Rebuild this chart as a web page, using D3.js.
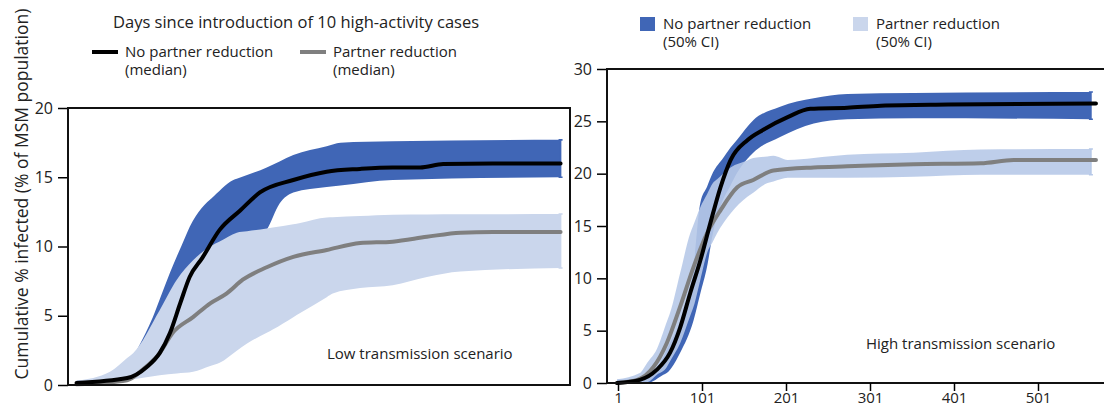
<!DOCTYPE html>
<html>
<head>
<meta charset="utf-8">
<script src="https://cdn.jsdelivr.net/npm/d3@7"></script>
<style>
  body { margin: 0; background: #fff; }
  svg { display: block; font-family: "Open Sans", sans-serif; }
</style>
</head>
<body>
<div class="my-graph"></div>
<script>
// ---- data ----
// low transmission scenario
const lowDaysMed = [3, 62, 85, 100, 112, 124, 135, 150, 170, 194, 217, 256, 295, 334, 372, 404, 431, 489, 568]
const lowNoRedMed = [0.15, 0.5, 1.3, 2.3, 3.75, 5.9, 7.8, 9.2, 11.2, 12.6, 13.9, 14.8, 15.4, 15.6, 15.7, 15.7, 15.95, 16.0, 16.0]

const lowDaysRed = [3, 62, 80, 100, 115, 139, 159, 178, 197, 225, 256, 295, 334, 372, 412, 451, 489, 568]
const lowRedMed = [0.05, 0.35, 1.1, 2.3, 3.75, 4.9, 5.9, 6.6, 7.6, 8.5, 9.25, 9.75, 10.25, 10.35, 10.7, 11.0, 11.05, 11.05]

const lowNoRedHiDays = [3, 42, 62, 75, 92, 112, 132, 159, 186, 225, 256, 311, 372, 568]
const lowNoRedHi = [0.3, 0.6, 1.1, 2.7, 4.9, 8.1, 11.0, 13.4, 14.8, 15.7, 16.6, 17.5, 17.6, 17.7]
const lowNoRedLoDays = [3, 62, 100, 130, 160, 190, 225, 240, 256, 295, 372, 568]
const lowNoRedLo = [0.05, 0.3, 1.5, 4, 7, 9.5, 11.2, 13.1, 13.9, 14.3, 14.8, 15.0]

const lowRedHiDays = [3, 42, 69, 100, 120, 139, 159, 190, 225, 256, 295, 372, 568]
const lowRedHi = [0.3, 0.95, 2.3, 5.4, 7.6, 9.0, 10.0, 11.0, 11.3, 11.6, 12.1, 12.3, 12.35]
const lowRedLoDays = [3, 62, 100, 139, 170, 202, 232, 264, 302, 334, 372, 412, 451, 568]
const lowRedLo = [0, 0.35, 0.7, 0.95, 1.6, 3.0, 4.0, 5.2, 6.6, 7.0, 7.2, 7.8, 8.2, 8.45]

// high transmission scenario
const highDaysMed = [0, 27, 47, 63, 75, 87, 99, 111, 123, 135, 155, 174, 203, 230, 274, 314, 394, 570]
const highNoRedMed = [0, 0.3, 1.25, 2.9, 5.3, 8.6, 11.7, 15.3, 18.7, 21.3, 23.2, 24.2, 25.4, 26.2, 26.3, 26.5, 26.6, 26.7]

const highDaysRed = [0, 24, 43, 59, 75, 91, 107, 123, 143, 162, 186, 234, 274, 353, 433, 472, 570]
const highRedMed = [0, 0.3, 1.5, 3.8, 7.3, 11.1, 14.3, 16.5, 18.7, 19.4, 20.3, 20.6, 20.7, 20.9, 21.0, 21.3, 21.3]

const highNoRedHiDays = [0, 36, 55, 75, 91, 99, 114, 135, 162, 194, 234, 274, 353, 564]
const highNoRedHi = [0.3, 0.7, 2.5, 6.0, 11.1, 17.2, 20.1, 22.5, 25.1, 26.4, 27.2, 27.6, 27.7, 27.8]
const highNoRedLoDays = [0, 36, 59, 75, 91, 107, 114, 126, 143, 162, 194, 234, 274, 353, 564]
const highNoRedLo = [0, 0, 0.95, 2.9, 6.0, 11.1, 14.3, 17.5, 20.1, 22.0, 23.5, 24.8, 25.2, 25.3, 25.2]

const highRedHiDays = [0, 27, 47, 63, 75, 87, 99, 114, 135, 162, 186, 203, 234, 274, 353, 433, 564]
const highRedHi = [0.35, 0.95, 3.2, 6.7, 10.5, 14.3, 16.8, 19.1, 20.6, 21.5, 21.7, 21.3, 21.5, 21.8, 22.0, 22.3, 22.35]
const highRedLoDays = [0, 36, 59, 75, 91, 107, 119, 135, 155, 179, 203, 274, 353, 433, 564]
const highRedLo = [0, 0.1, 1.5, 3.8, 7.3, 12.4, 14.3, 16.2, 17.8, 19.1, 19.6, 19.6, 19.7, 19.9, 19.9]

const yTicksLow = [0, 5, 10, 15, 20]
const yTicksHigh = [0, 5, 10, 15, 20, 25, 30]
const xTicksHigh = [1, 101, 201, 301, 401, 501]

const zip = (xs, ys) => xs.map((d, i) => ({ day: d, v: ys[i] }))

const drawGraph = () => {
  const width = 1104
  const height = 409
  const darkBlue = '#4066b6'
  const lightBlueL = '#cad6ec'
  const lightBlueR = '#b7c9e8'

  const svg = d3.select('.my-graph')
    .append('svg')
    .attr('width', width)
    .attr('height', height)

  // band: merge hi/lo arrays on a common day grid
  const band = (hiD, hi, loD, lo) => {
    const days = Array.from(new Set([...hiD, ...loD])).sort((a, b) => a - b)
    const hiF = d3.scaleLinear().domain(hiD).range(hi).clamp(true)
    const loF = d3.scaleLinear().domain(loD).range(lo).clamp(true)
    return days.map(d => ({ day: d, hi: hiF(d), lo: loF(d) }))
  }

  const panel = (cfg) => {
    const g = svg.append('g')
    const x = cfg.x, y = cfg.y

    const area = d3.area()
      .x(d => x(d.day))
      .y0(d => y(d.lo))
      .y1(d => y(d.hi))
      .curve(d3.curveMonotoneX)
    const line = d3.line()
      .x(d => x(d.day))
      .y(d => y(d.v))
      .curve(d3.curveMonotoneX)

    cfg.bands.forEach(b => {
      g.append('path').datum(b.data)
        .attr('fill', b.color)
        .attr('opacity', b.opacity || 1)
        .attr('d', area)
      // end caps
      const last = b.data[b.data.length - 1]
      const cx = x(last.day)
      g.append('path')
        .attr('d', `M${cx - 2},${y(last.hi)}H${cx + 2}M${cx},${y(last.hi)}V${y(last.lo)}M${cx - 2},${y(last.lo)}H${cx + 2}`)
        .attr('stroke', b.color).attr('stroke-width', 1.6).attr('fill', 'none')
    })

    cfg.lines.forEach(l => {
      g.append('path').datum(l.data)
        .attr('fill', 'none')
        .attr('stroke', l.color)
        .attr('stroke-width', 4)
        .attr('stroke-linecap', 'round')
        .attr('stroke-linejoin', 'round')
        .attr('d', line)
    })

    // y axis
    const ya = g.append('g')
      .attr('transform', `translate(${cfg.x0},0)`)
      .call(d3.axisLeft(y).tickValues(cfg.yTicks).tickSize(10).tickPadding(5))
    ya.select('.domain').remove()
    ya.selectAll('line').attr('stroke', '#000').attr('stroke-width', 1.5)
    ya.selectAll('text').attr('font-size', 16).attr('fill', '#222').attr('font-family', 'Open Sans, sans-serif')

    // frame
    g.append('path')
      .attr('d', cfg.frame)
      .attr('fill', 'none')
      .attr('stroke', '#111')
      .attr('stroke-width', 2)

    g.append('text')
      .attr('x', cfg.labelX).attr('y', cfg.labelY)
      .attr('font-size', 15).attr('fill', '#222')
      .text(cfg.label)
    return g
  }

  // ---- low transmission (left) ----
  const xL = d3.scaleLinear().domain([-7, 579]).range([68, 570])
  const yL = d3.scaleLinear().domain([0, 20]).range([385, 108])
  panel({
    x: xL, y: yL, x0: 68, yTicks: yTicksLow,
    frame: 'M68,108V385H570V108Z',
    label: 'Low transmission scenario', labelX: 327, labelY: 359,
    bands: [
      { data: band(lowNoRedHiDays, lowNoRedHi, lowNoRedLoDays, lowNoRedLo), color: darkBlue },
      { data: band(lowRedHiDays, lowRedHi, lowRedLoDays, lowRedLo), color: lightBlueL }
    ],
    lines: [
      { data: zip(lowDaysRed, lowRedMed), color: '#7f7f7f' },
      { data: zip(lowDaysMed, lowNoRedMed), color: '#000' }
    ]
  })

  // ---- high transmission (right) ----
  const xR = d3.scaleLinear().domain([1, 501]).range([618, 1038])
  const yR = d3.scaleLinear().domain([0, 30]).range([383, 69])
  const right = panel({
    x: xR, y: yR, x0: 607, yTicks: yTicksHigh,
    frame: 'M1110,69H607V383H1110',
    label: 'High transmission scenario', labelX: 866, labelY: 349,
    bands: [
      { data: band(highNoRedHiDays, highNoRedHi, highNoRedLoDays, highNoRedLo), color: darkBlue },
      { data: band(highRedHiDays, highRedHi, highRedLoDays, highRedLo), color: lightBlueR, opacity: 0.9 }
    ],
    lines: [
      { data: zip(highDaysRed, highRedMed), color: '#7f7f7f' },
      { data: zip(highDaysMed, highNoRedMed), color: '#000' }
    ]
  })

  const xa = right.append('g')
    .attr('transform', 'translate(0,383)')
    .call(d3.axisBottom(xR).tickValues(xTicksHigh).tickSize(8).tickPadding(1).tickFormat(d3.format('d')))
  xa.select('.domain').remove()
  xa.selectAll('line').attr('stroke', '#000').attr('stroke-width', 1.5)
  xa.selectAll('text').attr('font-size', 15).attr('fill', '#222').attr('font-family', 'Open Sans, sans-serif')

  // y axis title
  svg.append('text')
    .attr('transform', 'translate(28,194) rotate(-90)')
    .attr('text-anchor', 'middle')
    .attr('font-size', 17.5).attr('fill', '#222')
    .text('Cumulative % infected (% of MSM population)')

  // header + legends
  svg.append('text')
    .attr('x', 113).attr('y', 28)
    .attr('font-size', 16.5).attr('fill', '#222')
    .text('Days since introduction of 10 high-activity cases')

  const lineLegend = [
    { x: 92, color: '#000', lines: ['No partner reduction', '(median)'] },
    { x: 300, color: '#7f7f7f', lines: ['Partner reduction', '(median)'] }
  ]
  lineLegend.forEach(l => {
    svg.append('line')
      .attr('x1', l.x).attr('x2', l.x + 26).attr('y1', 52).attr('y2', 52)
      .attr('stroke', l.color).attr('stroke-width', 4)
    l.lines.forEach((t, i) => {
      svg.append('text')
        .attr('x', l.x + 33).attr('y', 57 + i * 18)
        .attr('font-size', 15).attr('fill', '#222')
        .text(t)
    })
  })

  const boxLegend = [
    { x: 640, color: darkBlue, lines: ['No partner reduction', '(50% CI)'] },
    { x: 853, color: lightBlueL, lines: ['Partner reduction', '(50% CI)'] }
  ]
  boxLegend.forEach(l => {
    svg.append('rect')
      .attr('x', l.x).attr('y', 17).attr('width', 15).attr('height', 14)
      .attr('fill', l.color)
    l.lines.forEach((t, i) => {
      svg.append('text')
        .attr('x', l.x + 23).attr('y', 29 + i * 18)
        .attr('font-size', 15).attr('fill', '#222')
        .text(t)
    })
  })
}

drawGraph()
</script>
</body>
</html>
